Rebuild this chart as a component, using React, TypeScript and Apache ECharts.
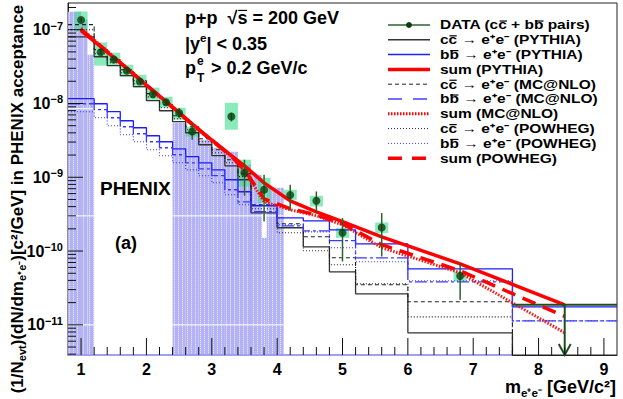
import React, { useEffect, useRef } from "react";
import * as echarts from "echarts";

const FONT = "'Liberation Sans', Arial, Helvetica, sans-serif";
const X_MIN = 0.8;
const X_MAX = 9.2;
const Y_MIN = 3.9e-12;
const Y_MAX = 2.3e-7;

// Model histograms (bin edges in GeV/c^2)
const binEdges = [0.8, 1.2, 1.4, 1.6, 1.8, 2.0, 2.2, 2.4, 2.6, 2.8, 3.0, 3.2, 3.4, 3.6, 4.0, 4.4, 4.8, 5.2, 6.0, 7.6, 9.2];
const ccPythia = [8.0e-8, 4.3e-8, 3.25e-8, 2.38e-8, 1.69e-8, 1.09e-8, 7.97e-9, 5.66e-9, 4.01e-9, 2.76e-9, 1.96e-9, 1.43e-9, 9.25e-10, 3.3e-10, 2.07e-10, 1.14e-10, 5.23e-11, 2.63e-11, 7.8e-12, 2e-12];
const ccMcnlo = [1.17e-7, 5.36e-8, 3.92e-8, 2.87e-8, 2.03e-8, 1.36e-8, 9.62e-9, 6.82e-9, 4.84e-9, 3.33e-9, 2.36e-9, 1.73e-9, 1.12e-9, 4.24e-10, 2.34e-10, 1.56e-10, 8.1e-11, 3.49e-11, 2.05e-11, 2e-12];
const ccPowheg = [1.0e-7, 4.73e-8, 3.57e-8, 2.61e-8, 1.85e-8, 1.23e-8, 8.76e-9, 6.21e-9, 4.41e-9, 3.03e-9, 2.15e-9, 1.57e-9, 1.02e-9, 3.74e-10, 1.77e-10, 1.01e-10, 6.51e-11, 3.6e-11, 1.28e-11, 2e-12];
const bbPythia = [1.16e-8, 9.92e-9, 7.73e-9, 5.83e-9, 4.69e-9, 3.65e-9, 3.03e-9, 2.43e-9, 1.9e-9, 1.57e-9, 1.26e-9, 9.25e-10, 6.36e-10, 4.11e-10, 2.82e-10, 2.57e-10, 1.94e-10, 1.25e-10, 5.74e-11, 1.75e-11];
const bbMcnlo = [9.92e-9, 8.23e-9, 6.41e-9, 4.84e-9, 3.89e-9, 3.03e-9, 2.51e-9, 2.02e-9, 1.57e-9, 1.3e-9, 1.05e-9, 6.77e-10, 4.65e-10, 3.41e-10, 2.2e-10, 1.88e-10, 1.38e-10, 8.1e-11, 3.83e-11, 1.13e-11];
const bbPowheg = [7.73e-9, 6.41e-9, 4.99e-9, 3.77e-9, 3.03e-9, 2.36e-9, 1.96e-9, 1.57e-9, 1.26e-9, 1.05e-9, 8.42e-10, 5.79e-10, 4.24e-10, 3.3e-10, 2.27e-10, 1.82e-10, 1.11e-10, 7.15e-11, 3.95e-11, 1.13e-11];

// Sum curves evaluated at bin centres
const sumCenters = [1.0, 1.3, 1.5, 1.7, 1.9, 2.1, 2.3, 2.5, 2.7, 3.0, 3.3, 3.5, 3.8, 4.2, 4.6, 5.0, 5.6, 6.8, 8.4];
const sumPythia = [9.7e-8, 5.9e-8, 4.2e-8, 3.0e-8, 2.1e-8, 1.49e-8, 1.06e-8, 7.5e-9, 5.3e-9, 3.2e-9, 1.96e-9, 1.43e-9, 8.4e-10, 4.8e-10, 3.4e-10, 2.5e-10, 1.56e-10, 6.7e-11, 1.87e-11];
const sumMcnlo = [1.05e-7, 6.1e-8, 4.3e-8, 3.05e-8, 2.15e-8, 1.5e-8, 1.07e-8, 7.4e-9, 5.2e-9, 3.1e-9, 1.9e-9, 1.22e-9, 4.65e-10, 3.63e-10, 3.0e-10, 2.27e-10, 1.11e-10, 5.07e-11, 7.8e-12];
const sumPowheg = [1.0e-7, 6.0e-8, 4.25e-8, 3.0e-8, 2.12e-8, 1.5e-8, 1.06e-8, 7.4e-9, 5.2e-9, 3.15e-9, 1.92e-9, 1.26e-9, 5.11e-10, 3.74e-10, 3.1e-10, 2.34e-10, 1.22e-10, 5.4e-11, 1.3e-11];

// Data
const dataX = [1.0, 1.3, 1.5, 1.7, 1.9, 2.1, 2.3, 2.5, 2.7, 3.3, 3.5, 3.8, 4.2, 4.6, 5.0, 5.6, 6.8];
const dataY = [1.35e-7, 4.95e-8, 3.95e-8, 2.78e-8, 1.99e-8, 1.33e-8, 1.04e-8, 7.43e-9, 4.18e-9, 6.65e-9, 1.15e-9, 6.77e-10, 5.74e-10, 4.8e-10, 1.77e-10, 2.08e-10, 4.6e-11];
const statHi = [1.45e-7, 5.3e-8, 4.2e-8, 2.95e-8, 2.12e-8, 1.44e-8, 1.13e-8, 8.7e-9, 5.48e-9, 7.49e-9, 1.73e-9, 1.08e-9, 7.91e-10, 6.42e-10, 2.8e-10, 3.27e-10, 6.86e-11];
const statLo = [1.26e-7, 4.6e-8, 3.7e-8, 2.6e-8, 1.86e-8, 1.23e-8, 9.5e-9, 6.3e-9, 3.22e-9, 5.71e-9, 5.61e-10, 2.52e-10, 3.51e-10, 3.27e-10, 7.22e-11, 8.44e-11, 2.18e-11];
const sysHi = [1.77e-7, 6.73e-8, 4.88e-8, 3.35e-8, 2.45e-8, 1.64e-8, 1.23e-8, 8.76e-9, 4.84e-9, 1.02e-8, 1.73e-9, 9.85e-10, 6.77e-10, 5.61e-10, 2.07e-10, 2.44e-10, 5.28e-11];
const sysLo = [9.5e-8, 3.25e-8, 3.28e-8, 2.31e-8, 1.64e-8, 1.12e-8, 8.76e-9, 6.02e-9, 3.54e-9, 4.41e-9, 7.5e-10, 4.51e-10, 4.95e-10, 4.02e-10, 1.51e-10, 1.75e-10, 3.86e-11];
const sysHalfWidth = 0.1;
const upperLimitBin = [7.6, 9.2];
const upperLimitX = 8.4;
const upperLimitY = 1.87e-11;

// Hatched (shaded) regions of the acceptance histogram
const hatchLo = [0.8, 1.0, 1.1, 2.4, 2.6, 2.8, 3.0, 3.2, 3.4, 3.6, 3.77, 3.84];
const hatchHi = [1.0, 1.1, 1.2, 2.6, 2.8, 3.0, 3.2, 3.4, 3.6, 3.77, 3.84, 4.1];
const hatchTop = [1.75e-7, 1.37e-7, 4.58e-8, 5.48e-9, 4.14e-9, 3.22e-9, 2.51e-9, 2.22e-9, 1.48e-9, 1.08e-9, 1.51e-10, 7.2e-10];
const hatchBaseRange = [0.8, 7.6];
const hatchSeamLevels = [8.5e-9, 3.0e-10, 1.0e-11];

// Axis ticks
const xMajorTicks = [1, 2, 3, 4, 5, 6, 7, 8, 9];
const xMinorOffsets = [0.2, 0.4, 0.6, 0.8];
const yMajorTicks = [1e-11, 1e-10, 1e-9, 1e-8, 1e-7];
const yMinorMantissas = [2, 3, 4, 5, 6, 7, 8, 9];
const yDecades = [1e-12, 1e-11, 1e-10, 1e-9, 1e-8, 1e-7];

function steps(edges: number[], vals: number[]) {
  const pts: number[][] = [];
  for (let i = 0; i < vals.length; i++) {
    pts.push([edges[i], vals[i]]);
    pts.push([edges[i + 1], vals[i]]);
  }
  return pts;
}

function histSeries(vals: number[], color: string, width: number, dash: any, z: number) {
  return {
    type: "line",
    data: steps(binEdges, vals),
    showSymbol: false,
    symbol: "none",
    clip: true,
    z,
    lineStyle: { color, width, type: dash },
    silent: true,
  };
}

function sumSeries(vals: number[], color: string, width: number, dash: any, z: number) {
  return {
    type: "line",
    data: sumCenters.map((c, i) => [c, vals[i]]),
    showSymbol: false,
    symbol: "none",
    clip: true,
    z,
    lineStyle: { color, width, type: dash, cap: "butt" },
    silent: true,
  };
}

const xMinorTicks: number[] = [];
for (const m of xMajorTicks) for (const o of xMinorOffsets) if (m + o < X_MAX) xMinorTicks.push(+(m + o).toFixed(2));
const yMinorTicks: number[] = [];
for (const d of yDecades) for (const m of yMinorMantissas) { const v = d * m; if (v > Y_MIN && v < Y_MAX) yMinorTicks.push(v); }

function tickSeries(data: number[][], horizontal: boolean, len: number) {
  return {
    type: "custom",
    z: 7,
    silent: true,
    data,
    renderItem: (params: any, api: any) => {
      const p = api.coord([api.value(0), api.value(1)]);
      const shape = horizontal
        ? { x1: p[0], y1: p[1], x2: p[0] + len, y2: p[1] }
        : { x1: p[0], y1: p[1], x2: p[0], y2: p[1] - len };
      return { type: "line", shape, style: { stroke: "#111", lineWidth: 1 } };
    },
  };
}

// ---------- text helpers ----------
type Seg = { t: string; lv?: "sup" | "sub" };
let measureCtx: CanvasRenderingContext2D | null = null;
function tw(s: string, size: number) {
  if (!measureCtx) measureCtx = document.createElement("canvas").getContext("2d");
  if (!measureCtx) return s.length * size * 0.55;
  measureCtx.font = `bold ${size}px 'Liberation Sans'`;
  return measureCtx.measureText(s).width;
}
function segSize(s: Seg, size: number) {
  return s.lv ? size * 0.65 : size;
}
function segDy(s: Seg, size: number) {
  if (s.lv === "sup") return -size * 0.36;
  if (s.lv === "sub") return size * 0.3;
  return 0;
}
function textStyle(text: string, size: number) {
  return {
    text,
    fill: "#000",
    fontSize: size,
    fontWeight: "bold",
    fontFamily: FONT,
    align: "left",
    textAlign: "left",
    verticalAlign: "middle",
    textVerticalAlign: "middle",
  };
}
function segText(x: number, y: number, segs: Seg[], size: number, align: "left" | "right" | "center" = "left", rotate = false) {
  const widths = segs.map((s) => tw(s.t, segSize(s, size)));
  const total = widths.reduce((a, b) => a + b, 0);
  let off = align === "right" ? -total : align === "center" ? -total / 2 : 0;
  const els: any[] = [];
  segs.forEach((s, i) => {
    const fs = segSize(s, size);
    const dy = segDy(s, size);
    els.push({
      type: "text",
      x: rotate ? x + dy : x + off,
      y: rotate ? y - off : y + dy,
      rotation: rotate ? Math.PI / 2 : 0,
      z: 100,
      style: textStyle(s.t, fs),
    });
    off += widths[i];
  });
  return els;
}
// text with an overbar over the characters at the given indices
function barText(x: number, y: number, text: string, size: number, bars: number[], barLift = 0.34, scaleY = 1) {
  const els: any[] = [{ type: "text", x, y, scaleY, z: 100, style: textStyle(text, size) }];
  bars.forEach((i) => {
    const a = x + tw(text.slice(0, i), size);
    const b = x + tw(text.slice(0, i + 1), size);
    const by = y - size * barLift * scaleY;
    els.push({ type: "line", z: 100, shape: { x1: a + 0.8, y1: by, x2: b - 0.5, y2: by }, style: { stroke: "#000", lineWidth: 1.2 } });
  });
  return els;
}

const legendEntries = [
  { text: "DATA (cc + bb pairs)", bars: [7, 12], color: "#2b642b", width: 1.5, dash: null as any, marker: true },
  { text: "cc \u2192 e\u207Ae\u207B (PYTHIA)", bars: [1], color: "#333", width: 1.5, dash: null, marker: false },
  { text: "bb \u2192 e\u207Ae\u207B (PYTHIA)", bars: [1], color: "#2020ff", width: 1.5, dash: null, marker: false },
  { text: "sum (PYTHIA)", bars: [], color: "#ff0000", width: 3.5, dash: null, marker: false },
  { text: "cc \u2192 e\u207Ae\u207B (MC@NLO)", bars: [1], color: "#222", width: 1, dash: [4, 3], marker: false },
  { text: "bb \u2192 e\u207Ae\u207B (MC@NLO)", bars: [1], color: "#7070ff", width: 2, dash: [14, 11], marker: false },
  { text: "sum (MC@NLO)", bars: [], color: "#ff0000", width: 3, dash: [1.5, 1.5], marker: false },
  { text: "cc \u2192 e\u207Ae\u207B (POWHEG)", bars: [1], color: "#222", width: 1, dash: [1, 2], marker: false },
  { text: "bb \u2192 e\u207Ae\u207B (POWHEG)", bars: [1], color: "#4040ff", width: 1, dash: [1, 2], marker: false },
  { text: "sum (POWHEG)", bars: [], color: "#ff0000", width: 3.5, dash: [14, 10], marker: false },
];

function buildLegend() {
  const els: any[] = [];
  const y0 = 25;
  const dy = 14.8;
  legendEntries.forEach((e, i) => {
    const y = y0 + i * dy;
    els.push({
      type: "line",
      shape: { x1: 388, y1: y, x2: 430, y2: y },
      style: { stroke: e.color, lineWidth: e.width, lineDash: e.dash || undefined },
      z: 100,
    });
    if (e.marker) {
      els.push({ type: "circle", shape: { cx: 409, cy: y, r: 3 }, style: { fill: "#0b3d0b" }, z: 101 });
    }
    els.push(...barText(440, y, e.text, 15.5, e.bars, 0.32, 0.8));
  });
  return els;
}

function txt(x: number, y: number, text: string, size: number) {
  return { type: "text", x, y, z: 100, style: textStyle(text, size) };
}

export default function App() {
  const ref = useRef<HTMLDivElement>(null);
  useEffect(() => {
    if (!ref.current) return;
    const chart = echarts.init(ref.current, undefined, { renderer: "svg" });

    const option: any = {
      animation: false,
      backgroundColor: "#ffffff",
      grid: { left: 68, right: 6, top: 3, bottom: 44, show: true, borderColor: "#222", borderWidth: 1, backgroundColor: "transparent" },
      xAxis: {
        type: "value",
        min: X_MIN,
        max: X_MAX,
        splitNumber: 8,
        axisLine: { show: true, onZero: false, lineStyle: { color: "#222", width: 1 } },
        axisTick: { show: false },
        splitLine: { show: false },
        axisLabel: {
          showMinLabel: false,
          showMaxLabel: false,
          margin: 6,
          color: "#000",
          fontSize: 16,
          fontWeight: "bold",
          fontFamily: FONT,
          formatter: (v: number) => (Math.abs(v - Math.round(v)) < 1e-6 ? String(Math.round(v)) : ""),
        },
      },
      yAxis: {
        type: "log",
        logBase: 10,
        min: Y_MIN,
        max: Y_MAX,
        axisLine: { show: true, lineStyle: { color: "#222", width: 1 } },
        axisTick: { show: false },
        splitLine: { show: false },
        axisLabel: {
          showMinLabel: false,
          showMaxLabel: false,
          margin: 5,
          color: "#000",
          formatter: (v: number) => {
            const e = Math.round(Math.log10(v));
            return "{a|10}{b|\u2212" + -e + "}";
          },
          rich: {
            a: { fontSize: 16, fontWeight: "bold", fontFamily: FONT, color: "#000" },
            b: { fontSize: 11, fontWeight: "bold", fontFamily: FONT, color: "#000", verticalAlign: "top", padding: [0, 0, 8, 0] },
          },
        },
      },
      series: [
        // Hatched regions
        {
          type: "custom",
          z: 1,
          silent: true,
          data: hatchLo.map((lo, i) => [lo, hatchTop[i], hatchHi[i]]),
          renderItem: (params: any, api: any) => {
            const lo = api.value(0);
            const top = api.value(1);
            const hi = api.value(2);
            const p1 = api.coord([lo, top]);
            const p2 = api.coord([hi, Y_MIN]);
            const children: any[] = [
              { type: "rect", shape: { x: p1[0], y: p1[1], width: p2[0] - p1[0], height: p2[1] - p1[1] }, style: { fill: "#b2b2f4" } },
            ];
            for (let xx = Math.ceil(p1[0]) + 1.5; xx < p2[0]; xx += 4) {
              children.push({
                type: "line",
                shape: { x1: xx, y1: p1[1], x2: xx, y2: p2[1] },
                style: { stroke: "rgba(255,255,255,0.8)", lineWidth: 1, lineDash: [1, 1] },
              });
            }
            hatchSeamLevels.forEach((lv) => {
              const ly = api.coord([lo, lv])[1];
              if (ly > p1[1] + 2) {
                children.push({
                  type: "line",
                  shape: { x1: p1[0], y1: ly, x2: p2[0], y2: ly },
                  style: { stroke: "rgba(255,255,255,0.9)", lineWidth: 1.2 },
                });
              }
            });
            return { type: "group", children };
          },
        },
        {
          type: "line",
          z: 1,
          data: [[hatchBaseRange[0], Y_MIN], [hatchBaseRange[1], Y_MIN]],
          showSymbol: false,
          symbol: "none",
          clip: false,
          lineStyle: { color: "#a0a0f0", width: 2 },
          silent: true,
        },
        // Systematic boxes
        {
          type: "custom",
          z: 2,
          silent: true,
          data: dataX.map((x, i) => [x, sysLo[i], sysHi[i]]),
          renderItem: (params: any, api: any) => {
            const x = api.value(0);
            const p1 = api.coord([x - sysHalfWidth, api.value(2)]);
            const p2 = api.coord([x + sysHalfWidth, api.value(1)]);
            return {
              type: "rect",
              shape: { x: p1[0], y: p1[1], width: p2[0] - p1[0], height: p2[1] - p1[1] },
              style: { fill: "rgba(60,222,140,0.6)" },
            };
          },
        },
        // Axis ticks
        tickSeries(xMajorTicks.map((v) => [v, Y_MIN]), false, 17),
        tickSeries(xMinorTicks.map((v) => [v, Y_MIN]), false, 8),
        tickSeries(yMajorTicks.map((v) => [X_MIN, v]), true, 15),
        tickSeries(yMinorTicks.map((v) => [X_MIN, v]), true, 8),
        // Model histograms
        histSeries(ccPythia, "#333333", 1.3, "solid", 4),
        histSeries(ccMcnlo, "#222222", 1.1, [4, 3], 4),
        histSeries(ccPowheg, "#222222", 1.1, [1, 2], 4),
        histSeries(bbPythia, "#1c1cff", 1.3, "solid", 4),
        histSeries(bbMcnlo, "#3a3aff", 1.3, [12, 3, 3, 3], 4),
        histSeries(bbPowheg, "#3a3aff", 1.1, [1, 2], 4),
        // Sums
        sumSeries(sumPythia, "#ff0000", 3.5, "solid", 5),
        sumSeries(sumMcnlo, "#ff1010", 3, [1.5, 1.5], 5),
        sumSeries(sumPowheg, "#ff0000", 3.5, [14, 8], 5),
        // Upper limit bin of data
        {
          type: "line",
          z: 6,
          data: [[upperLimitBin[0], upperLimitY], [upperLimitBin[1], upperLimitY]],
          showSymbol: false,
          symbol: "none",
          lineStyle: { color: "#1f4f1f", width: 2 },
          silent: true,
        },
        {
          type: "custom",
          z: 6,
          silent: true,
          data: [[upperLimitX, upperLimitY]],
          renderItem: (params: any, api: any) => {
            const p = api.coord([api.value(0), api.value(1)]);
            const b = api.coord([api.value(0), Y_MIN]);
            return {
              type: "group",
              children: [
                { type: "line", shape: { x1: p[0], y1: p[1], x2: p[0], y2: b[1] }, style: { stroke: "#1f4f1f", lineWidth: 2 } },
                { type: "polyline", shape: { points: [[p[0] - 6, b[1] - 11], [p[0], b[1]], [p[0] + 6, b[1] - 11]] }, style: { stroke: "#1f4f1f", lineWidth: 2, fill: "none" } },
              ],
            };
          },
        },
        // Stat error bars
        {
          type: "custom",
          z: 6,
          silent: true,
          data: dataX.map((x, i) => [x, statLo[i], statHi[i]]),
          renderItem: (params: any, api: any) => {
            const p1 = api.coord([api.value(0), api.value(1)]);
            const p2 = api.coord([api.value(0), api.value(2)]);
            return { type: "line", shape: { x1: p1[0], y1: p1[1], x2: p2[0], y2: p2[1] }, style: { stroke: "#2b642b", lineWidth: 1.5 } };
          },
        },
        {
          type: "scatter",
          z: 7,
          data: dataX.map((x, i) => [x, dataY[i]]),
          symbol: "circle",
          symbolSize: 8,
          itemStyle: { color: "#0b3d0b" },
          silent: true,
        },
      ],
      graphic: [
        ...buildLegend(),
        ...barText(185, 18, "p+p  \u221As = 200 GeV", 18, [6], 0.42),
        ...segText(185, 44, [{ t: "|y" }, { t: "e", lv: "sup" }, { t: "| < 0.35" }], 18),
        txt(185, 68, "p", 18),
        txt(197, 61, "e", 12),
        txt(197, 78, "T", 12),
        txt(211, 68, "> 0.2 GeV/c", 18),
        txt(100, 188, "PHENIX", 19),
        txt(115, 243, "(a)", 18),
        ...segText(616, 387, [{ t: "m" }, { t: "e\u207Ae\u207B", lv: "sub" }, { t: " [GeV/c\u00B2]" }], 18, "right"),
        ...segText(17, 199, [
          { t: "(1/N" }, { t: "evt", lv: "sub" }, { t: ")(dN/dm" }, { t: "e\u207Ae\u207B", lv: "sub" },
          { t: ")[c\u00B2/GeV] in PHENIX acceptance" },
        ], 17, "center", true),
      ],
    };
    chart.setOption(option);
    return () => chart.dispose();
  }, []);
  return <div ref={ref} style={{ position: "fixed", left: 0, top: 0, width: 623, height: 399 }} />;
}
